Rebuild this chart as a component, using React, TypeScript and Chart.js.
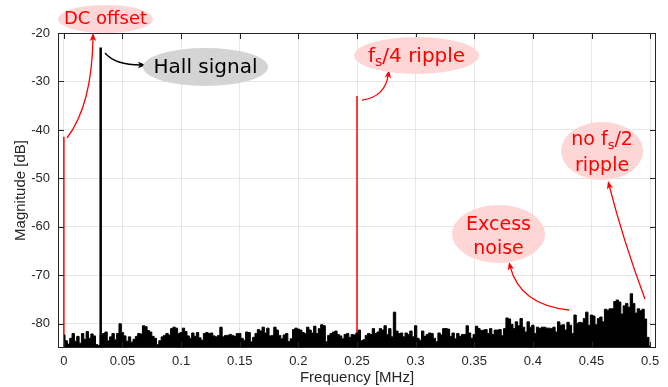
import React, { useEffect, useRef } from 'react';
import { Chart, registerables } from 'chart.js';

Chart.register(...registerables);

// ---------- data ----------
const xTickValues = [0, 0.05, 0.1, 0.15, 0.2, 0.25, 0.3, 0.35, 0.4, 0.45, 0.5];
const xTickLabels = ['0', '0.05', '0.1', '0.15', '0.2', '0.25', '0.3', '0.35', '0.4', '0.45', '0.5'];
const yTickValues = [-80, -70, -60, -50, -40, -30, -20];
const yTickLabels = ['-80', '-70', '-60', '-50', '-40', '-30', '-20'];

const floorDb = -85;
const freqStep = 0.002; // MHz between spectrum bins

// noise floor spectrum, one value per bin starting at 0 MHz
const noiseDb = [
  -82.3, -83.5, -84.2, -83.0, -82.0, -83.6, -82.6, -84.0, -82.0, -83.2,
  -81.6, -83.0, -82.1, -82.5, -84.3, -84.5, -82.3, -82.0, -81.7, -83.5,
  -82.7, -82.0, -83.3, -82.0, -80.0, -81.8, -82.5, -83.6, -82.7, -83.8,
  -83.2, -82.6, -82.0, -82.1, -80.4, -80.6, -81.4, -81.7, -82.6, -83.0,
  -84.3, -83.5, -82.7, -82.4, -82.0, -82.3, -81.0, -80.7, -80.9, -82.0,
  -81.8, -80.9, -81.6, -82.5, -83.0, -81.9, -82.6, -81.8, -82.9, -83.4,
  -82.0, -81.8,
  -82.0, -81.9, -82.5, -82.7, -82.4, -80.7, -82.7, -82.4, -82.4, -82.2,
  -82.4, -82.6, -82.0, -82.0, -83.0, -83.4, -81.7, -81.8, -83.7, -82.8,
  -82.0, -81.2, -81.5, -80.7, -81.9, -80.9, -82.5, -82.4, -80.7, -81.3,
  -82.4, -83.1, -82.3, -82.0, -83.7, -83.1, -81.2, -80.9, -81.1, -81.3,
  -81.8, -82.0, -80.7, -81.3, -81.9, -80.5, -82.0, -81.0, -80.2, -80.4,
  -83.7, -82.4, -82.0, -81.7, -81.5, -82.2, -82.5, -83.1, -82.2, -82.0,
  -82.8, -82.2, -82.3,
  -81.9, -81.3, -83.5, -83.3, -82.4, -82.0, -82.2, -81.0, -82.0, -81.7,
  -81.0, -81.3, -80.4, -82.2, -81.0, -82.7, -77.6, -81.5, -82.0, -81.9,
  -82.7, -81.9, -82.2, -81.5, -82.7, -80.4, -83.0, -83.4, -81.5, -82.6,
  -82.2, -81.9, -82.0, -83.0, -83.7, -81.9, -82.3, -81.0, -81.0, -81.1,
  -82.6, -81.9, -83.1, -82.0, -82.6, -82.2, -82.2, -80.4, -81.9, -83.0,
  -82.2, -80.5, -81.0, -81.4, -81.3, -81.2, -82.0, -81.0, -82.2, -81.3,
  -81.3, -81.2, -82.4,
  -81.0, -78.8, -79.0, -80.1, -81.0, -79.6, -80.4, -78.9, -80.7, -81.7,
  -79.6, -80.7, -80.3, -82.0, -80.7, -81.0, -80.7, -80.7, -80.9, -80.9,
  -81.0, -80.7, -81.7, -79.6, -80.3, -80.2, -81.3, -79.7, -80.3, -82.0,
  -78.2, -79.9, -79.7, -79.8, -78.9, -77.6, -80.3, -78.2, -78.4, -80.2,
  -78.9, -78.6, -79.6, -77.0, -77.2, -76.9, -76.9, -75.4, -75.1, -75.5,
  -78.0, -76.3, -75.8, -76.6, -73.8, -75.8, -77.8, -76.9, -77.3, -77.0,
  -79.0, -82.8, -84.6,
];

// tones
const dcFreq = 0;
const dcPeakDb = -41.4;
const hallFreq = 0.0314;
const hallPeakDb = -23;
const fs4Freq = 0.25;
const fs4PeakDb = -33;

// ---------- annotations (positions in MHz / dB) ----------
type Seg = { t: string; sub?: boolean };
type Note = {
  cf: number; cdb: number; rx: number; ry: number; fill: string; color: string; size: number;
  lines: { segs: Seg[]; db: number }[];
  arrow: { p0: [number, number]; c: [number, number]; p2: [number, number]; color: string };
};

const notes: Note[] = [
  {
    cf: 0.0355, cdb: -17.11, rx: 47.5, ry: 14, fill: '#ffd6d6', color: '#ff0000', size: 18,
    lines: [{ segs: [{ t: 'DC offset' }], db: -18.14 }],
    arrow: { p0: [0.0027, -41.67], c: [0.024, -34.86], p2: [0.0249, -20.0], color: '#ff0000' },
  },
  {
    cf: 0.1208, cdb: -27.02, rx: 62.5, ry: 19, fill: '#d4d4d4', color: '#000000', size: 20,
    lines: [{ segs: [{ t: 'Hall signal' }], db: -28.32 }],
    arrow: { p0: [0.0351, -24.13], c: [0.0436, -26.6], p2: [0.07, -26.6], color: '#000000' },
  },
  {
    cf: 0.3008, cdb: -24.64, rx: 62.5, ry: 18.5, fill: '#ffd6d6', color: '#ff0000', size: 20,
    lines: [{ segs: [{ t: 'f' }, { t: 's', sub: true }, { t: '/4 ripple' }], db: -25.92 }],
    arrow: { p0: [0.2543, -33.83], c: [0.2739, -33.21], p2: [0.2773, -27.64], color: '#ff0000' },
  },
  {
    cf: 0.459, cdb: -44.35, rx: 41, ry: 29, fill: '#ffd6d6', color: '#ff0000', size: 19,
    lines: [
      { segs: [{ t: 'no f' }, { t: 's', sub: true }, { t: '/2' }], db: -43.11 },
      { segs: [{ t: 'ripple' }], db: -48.42 },
    ],
    arrow: { p0: [0.4956, -74.89], c: [0.4769, -62.72], p2: [0.4641, -50.54], color: '#ff0000' },
  },
  {
    cf: 0.3707, cdb: -61.48, rx: 46.5, ry: 29, fill: '#ffd6d6', color: '#ff0000', size: 19,
    lines: [
      { segs: [{ t: 'Excess' }], db: -60.65 },
      { segs: [{ t: 'noise' }], db: -65.6 },
    ],
    arrow: { p0: [0.4308, -77.16], c: [0.389, -76.13], p2: [0.3796, -67.26], color: '#ff0000' },
  },
];

const AXIS_FONT = '"Liberation Sans", Arial, Helvetica, sans-serif';
const NOTE_FONT = '"DejaVu Sans", sans-serif';
const AXIS_COLOR = '#262626';

const framePlugin = {
  id: 'frameTicks',
  afterDatasetsDraw(chart: any) {
    const { ctx, chartArea: a, scales } = chart;
    ctx.save();
    ctx.strokeStyle = AXIS_COLOR;
    ctx.lineWidth = 1;
    ctx.strokeRect(a.left + 0.5, a.top + 0.5, a.right - a.left - 1, a.bottom - a.top - 1);
    const tl = 6;
    ctx.beginPath();
    xTickValues.forEach((v) => {
      const px = Math.round(scales.x.getPixelForValue(v)) + 0.5;
      ctx.moveTo(px, a.bottom);
      ctx.lineTo(px, a.bottom - tl);
      ctx.moveTo(px, a.top);
      ctx.lineTo(px, a.top + tl);
    });
    yTickValues.forEach((v) => {
      const py = Math.round(scales.y.getPixelForValue(v)) + 0.5;
      ctx.moveTo(a.left, py);
      ctx.lineTo(a.left + tl, py);
      ctx.moveTo(a.right, py);
      ctx.lineTo(a.right - tl, py);
    });
    ctx.stroke();
    ctx.restore();
  },
};

function drawSegs(ctx: CanvasRenderingContext2D, segs: Seg[], cx: number, base: number, size: number) {
  const main = `${size}px ${NOTE_FONT}`;
  const sub = `${Math.round(size * 0.7)}px ${NOTE_FONT}`;
  let total = 0;
  const widths = segs.map((s) => {
    ctx.font = s.sub ? sub : main;
    const w = ctx.measureText(s.t).width;
    total += w;
    return w;
  });
  let x = cx - total / 2;
  ctx.textAlign = 'left';
  ctx.textBaseline = 'alphabetic';
  segs.forEach((s, i) => {
    ctx.font = s.sub ? sub : main;
    ctx.fillText(s.t, x, s.sub ? base + size * 0.2 : base);
    x += widths[i];
  });
}

const notePlugin = {
  id: 'notes',
  afterDraw(chart: any) {
    const { ctx, scales } = chart;
    const P = (f: number, db: number) => [scales.x.getPixelForValue(f), scales.y.getPixelForValue(db)];
    ctx.save();
    notes.forEach((n) => {
      // arrow
      const [x0, y0] = P(n.arrow.p0[0], n.arrow.p0[1]);
      const [xc, yc] = P(n.arrow.c[0], n.arrow.c[1]);
      const [x2, y2] = P(n.arrow.p2[0], n.arrow.p2[1]);
      const ang = Math.atan2(y2 - yc, x2 - xc);
      const hl = 8, hw = 3.2;
      ctx.strokeStyle = n.arrow.color;
      ctx.fillStyle = n.arrow.color;
      ctx.lineWidth = 1.3;
      ctx.beginPath();
      ctx.moveTo(x0, y0);
      ctx.quadraticCurveTo(xc, yc, x2 - Math.cos(ang) * hl * 0.6, y2 - Math.sin(ang) * hl * 0.6);
      ctx.stroke();
      ctx.beginPath();
      ctx.moveTo(x2, y2);
      ctx.lineTo(x2 - Math.cos(ang) * hl + Math.sin(ang) * hw, y2 - Math.sin(ang) * hl - Math.cos(ang) * hw);
      ctx.lineTo(x2 - Math.cos(ang) * hl * 0.75, y2 - Math.sin(ang) * hl * 0.75);
      ctx.lineTo(x2 - Math.cos(ang) * hl - Math.sin(ang) * hw, y2 - Math.sin(ang) * hl + Math.cos(ang) * hw);
      ctx.closePath();
      ctx.fill();
      // ellipse
      const [cx, cy] = P(n.cf, n.cdb);
      ctx.fillStyle = n.fill;
      ctx.beginPath();
      ctx.ellipse(cx, cy, n.rx, n.ry, 0, 0, Math.PI * 2);
      ctx.fill();
      // text
      ctx.fillStyle = n.color;
      n.lines.forEach((l) => {
        const by = scales.y.getPixelForValue(l.db);
        drawSegs(ctx, l.segs, cx, by, n.size);
      });
    });
    ctx.restore();
  },
};

export default function App() {
  const ref = useRef<HTMLCanvasElement | null>(null);

  useEffect(() => {
    if (!ref.current) return;
    const noisePoints = noiseDb.map((v, i) => ({ x: i * freqStep, y: v }));
    const spike = (f: number, top: number) => [
      { x: f, y: floorDb },
      { x: f, y: top },
    ];
    const chart = new Chart(ref.current, {
      type: 'line',
      data: {
        datasets: [
          {
            data: noisePoints,
            borderColor: '#000000',
            backgroundColor: '#000000',
            borderWidth: 1,
            fill: 'start',
            stepped: 'middle',
            pointRadius: 0,
            order: 0,
          } as any,
          {
            data: spike(dcFreq, dcPeakDb),
            borderColor: '#ff0000',
            borderWidth: 1.5,
            pointRadius: 0,
            fill: false,
            order: 1,
          },
          {
            data: spike(hallFreq, hallPeakDb),
            borderColor: '#000000',
            borderWidth: 2.5,
            pointRadius: 0,
            fill: false,
            order: 1,
          },
          {
            data: spike(fs4Freq, fs4PeakDb),
            borderColor: '#ff0000',
            borderWidth: 1.5,
            pointRadius: 0,
            fill: false,
            order: 1,
          },
        ],
      },
      options: {
        responsive: false,
        animation: false,
        layout: { padding: { left: 0, right: 12, top: 33, bottom: 0 } },
        plugins: { legend: { display: false }, tooltip: { enabled: false } },
        scales: {
          x: {
            type: 'linear',
            min: -0.005,
            max: 0.505,
            afterBuildTicks: (s: any) => {
              s.ticks = xTickValues.map((v) => ({ value: v }));
            },
            afterFit: (s: any) => {
              s.height = 39;
            },
            grid: { color: '#e6e6e6', drawTicks: false, lineWidth: 1 },
            border: { display: false },
            ticks: {
              padding: 6,
              color: AXIS_COLOR,
              font: { family: AXIS_FONT, size: 13 },
              maxRotation: 0,
              autoSkip: false,
              callback: (_v: any, i: number) => xTickLabels[i],
            },
            title: {
              display: true,
              text: 'Frequency [MHz]',
              color: AXIS_COLOR,
              font: { family: AXIS_FONT, size: 15, lineHeight: 1 },
              padding: { top: 0, bottom: 2 },
            },
          },
          y: {
            type: 'linear',
            min: -85,
            max: -20,
            afterBuildTicks: (s: any) => {
              s.ticks = yTickValues.map((v) => ({ value: v }));
            },
            afterFit: (s: any) => {
              s.width = 58;
            },
            grid: { color: '#e6e6e6', drawTicks: false, lineWidth: 1 },
            border: { display: false },
            ticks: {
              padding: 8,
              color: AXIS_COLOR,
              font: { family: AXIS_FONT, size: 13 },
              autoSkip: false,
              callback: (_v: any, i: number) => yTickLabels[i],
            },
            title: {
              display: true,
              text: 'Magnitude [dB]',
              color: AXIS_COLOR,
              font: { family: AXIS_FONT, size: 15, lineHeight: 1 },
              padding: { top: 13, bottom: 0 },
            },
          },
        },
      } as any,
      plugins: [framePlugin, notePlugin],
    });
    return () => chart.destroy();
  }, []);

  return (
    <div style={{ position: 'fixed', left: 0, top: 0, width: 668, height: 387, background: '#ffffff' }}>
      <canvas ref={ref} width={668} height={387} />
    </div>
  );
}
